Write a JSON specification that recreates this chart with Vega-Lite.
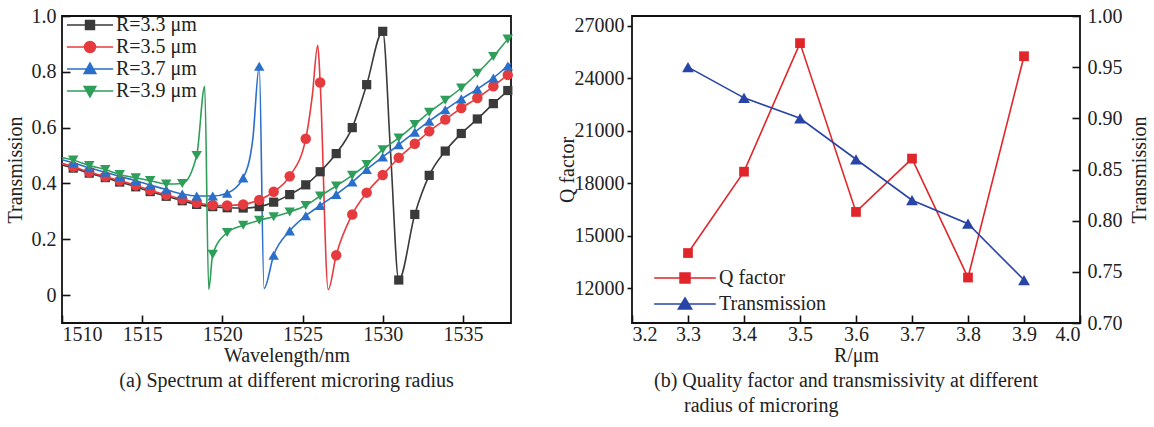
{
  "$schema": "https://vega.github.io/schema/vega-lite/v6.json",
  "background": "white",
  "autosize": {"type": "pad"},
  "padding": {"left": 4, "top": 5, "right": 0, "bottom": 0},
  "bounds": "flush",
  "spacing": 121,
  "resolve": {"scale": {"color": "independent"}},
  "config": {
    "font": "Liberation Serif",
    "view": {"stroke": "#111", "strokeWidth": 1.8},
    "axis": {
      "grid": false, "domain": false, "ticks": true, "tickOpacity": 1,
      "tickColor": "#111", "tickWidth": 1.6, "zindex": 1,
      "labelFont": "Liberation Serif", "labelFontSize": 20, "labelColor": "#222",
      "titleFont": "Liberation Serif", "titleFontSize": 20, "titleFontWeight": "normal", "titleColor": "#222"
    },
    "legend": {"labelFont": "Liberation Serif", "labelFontSize": 20, "labelColor": "#222", "padding": 0, "symbolStrokeWidth": 1.6},
    "title": {"font": "Liberation Serif", "fontSize": 20, "fontWeight": "normal", "color": "#222"}
  },
  "datasets": {
    "spectrum": [
      {"series": "R=3.3 μm", "wl": 1510.0, "T": 0.466, "kind": "edge"},
      {"series": "R=3.3 μm", "wl": 1510.7, "T": 0.455, "kind": "sample"},
      {"series": "R=3.3 μm", "wl": 1511.7, "T": 0.437, "kind": "sample"},
      {"series": "R=3.3 μm", "wl": 1512.7, "T": 0.421, "kind": "sample"},
      {"series": "R=3.3 μm", "wl": 1513.6, "T": 0.405, "kind": "sample"},
      {"series": "R=3.3 μm", "wl": 1514.6, "T": 0.388, "kind": "sample"},
      {"series": "R=3.3 μm", "wl": 1515.5, "T": 0.371, "kind": "sample"},
      {"series": "R=3.3 μm", "wl": 1516.5, "T": 0.354, "kind": "sample"},
      {"series": "R=3.3 μm", "wl": 1517.5, "T": 0.338, "kind": "sample"},
      {"series": "R=3.3 μm", "wl": 1518.4, "T": 0.325, "kind": "sample"},
      {"series": "R=3.3 μm", "wl": 1519.4, "T": 0.317, "kind": "sample"},
      {"series": "R=3.3 μm", "wl": 1520.3, "T": 0.313, "kind": "sample"},
      {"series": "R=3.3 μm", "wl": 1521.3, "T": 0.312, "kind": "sample"},
      {"series": "R=3.3 μm", "wl": 1522.3, "T": 0.317, "kind": "sample"},
      {"series": "R=3.3 μm", "wl": 1523.2, "T": 0.333, "kind": "sample"},
      {"series": "R=3.3 μm", "wl": 1524.2, "T": 0.360, "kind": "sample"},
      {"series": "R=3.3 μm", "wl": 1525.2, "T": 0.395, "kind": "sample"},
      {"series": "R=3.3 μm", "wl": 1526.1, "T": 0.442, "kind": "sample"},
      {"series": "R=3.3 μm", "wl": 1527.1, "T": 0.507, "kind": "sample"},
      {"series": "R=3.3 μm", "wl": 1528.1, "T": 0.600, "kind": "sample"},
      {"series": "R=3.3 μm", "wl": 1529.0, "T": 0.754, "kind": "sample"},
      {"series": "R=3.3 μm", "wl": 1530.0, "T": 0.945, "kind": "sample"},
      {"series": "R=3.3 μm", "wl": 1530.5, "T": 0.500, "kind": "trace"},
      {"series": "R=3.3 μm", "wl": 1531.0, "T": 0.054, "kind": "sample"},
      {"series": "R=3.3 μm", "wl": 1532.0, "T": 0.289, "kind": "sample"},
      {"series": "R=3.3 μm", "wl": 1532.9, "T": 0.429, "kind": "sample"},
      {"series": "R=3.3 μm", "wl": 1533.9, "T": 0.516, "kind": "sample"},
      {"series": "R=3.3 μm", "wl": 1534.9, "T": 0.579, "kind": "sample"},
      {"series": "R=3.3 μm", "wl": 1535.9, "T": 0.631, "kind": "sample"},
      {"series": "R=3.3 μm", "wl": 1536.9, "T": 0.686, "kind": "sample"},
      {"series": "R=3.3 μm", "wl": 1537.8, "T": 0.733, "kind": "sample"},
      {"series": "R=3.3 μm", "wl": 1538.0, "T": 0.745, "kind": "edge"},

      {"series": "R=3.5 μm", "wl": 1510.0, "T": 0.472, "kind": "edge"},
      {"series": "R=3.5 μm", "wl": 1510.7, "T": 0.460, "kind": "sample"},
      {"series": "R=3.5 μm", "wl": 1511.7, "T": 0.441, "kind": "sample"},
      {"series": "R=3.5 μm", "wl": 1512.7, "T": 0.425, "kind": "sample"},
      {"series": "R=3.5 μm", "wl": 1513.6, "T": 0.410, "kind": "sample"},
      {"series": "R=3.5 μm", "wl": 1514.6, "T": 0.393, "kind": "sample"},
      {"series": "R=3.5 μm", "wl": 1515.5, "T": 0.376, "kind": "sample"},
      {"series": "R=3.5 μm", "wl": 1516.5, "T": 0.359, "kind": "sample"},
      {"series": "R=3.5 μm", "wl": 1517.5, "T": 0.343, "kind": "sample"},
      {"series": "R=3.5 μm", "wl": 1518.4, "T": 0.331, "kind": "sample"},
      {"series": "R=3.5 μm", "wl": 1519.4, "T": 0.323, "kind": "sample"},
      {"series": "R=3.5 μm", "wl": 1520.3, "T": 0.321, "kind": "sample"},
      {"series": "R=3.5 μm", "wl": 1521.3, "T": 0.325, "kind": "sample"},
      {"series": "R=3.5 μm", "wl": 1522.3, "T": 0.341, "kind": "sample"},
      {"series": "R=3.5 μm", "wl": 1523.2, "T": 0.370, "kind": "sample"},
      {"series": "R=3.5 μm", "wl": 1524.2, "T": 0.426, "kind": "sample"},
      {"series": "R=3.5 μm", "wl": 1525.2, "T": 0.560, "kind": "sample"},
      {"series": "R=3.5 μm", "wl": 1525.6, "T": 0.710, "kind": "trace"},
      {"series": "R=3.5 μm", "wl": 1525.95, "T": 0.895, "kind": "trace"},
      {"series": "R=3.5 μm", "wl": 1526.1, "T": 0.762, "kind": "sample"},
      {"series": "R=3.5 μm", "wl": 1526.6, "T": 0.020, "kind": "trace"},
      {"series": "R=3.5 μm", "wl": 1527.1, "T": 0.143, "kind": "sample"},
      {"series": "R=3.5 μm", "wl": 1528.1, "T": 0.289, "kind": "sample"},
      {"series": "R=3.5 μm", "wl": 1529.0, "T": 0.367, "kind": "sample"},
      {"series": "R=3.5 μm", "wl": 1530.0, "T": 0.430, "kind": "sample"},
      {"series": "R=3.5 μm", "wl": 1531.0, "T": 0.492, "kind": "sample"},
      {"series": "R=3.5 μm", "wl": 1532.0, "T": 0.542, "kind": "sample"},
      {"series": "R=3.5 μm", "wl": 1532.9, "T": 0.587, "kind": "sample"},
      {"series": "R=3.5 μm", "wl": 1533.9, "T": 0.629, "kind": "sample"},
      {"series": "R=3.5 μm", "wl": 1534.9, "T": 0.670, "kind": "sample"},
      {"series": "R=3.5 μm", "wl": 1535.9, "T": 0.706, "kind": "sample"},
      {"series": "R=3.5 μm", "wl": 1536.9, "T": 0.748, "kind": "sample"},
      {"series": "R=3.5 μm", "wl": 1537.8, "T": 0.789, "kind": "sample"},
      {"series": "R=3.5 μm", "wl": 1538.0, "T": 0.797, "kind": "edge"},

      {"series": "R=3.7 μm", "wl": 1510.0, "T": 0.485, "kind": "edge"},
      {"series": "R=3.7 μm", "wl": 1510.7, "T": 0.474, "kind": "sample"},
      {"series": "R=3.7 μm", "wl": 1511.7, "T": 0.456, "kind": "sample"},
      {"series": "R=3.7 μm", "wl": 1512.7, "T": 0.440, "kind": "sample"},
      {"series": "R=3.7 μm", "wl": 1513.6, "T": 0.425, "kind": "sample"},
      {"series": "R=3.7 μm", "wl": 1514.6, "T": 0.410, "kind": "sample"},
      {"series": "R=3.7 μm", "wl": 1515.5, "T": 0.394, "kind": "sample"},
      {"series": "R=3.7 μm", "wl": 1516.5, "T": 0.378, "kind": "sample"},
      {"series": "R=3.7 μm", "wl": 1517.5, "T": 0.362, "kind": "sample"},
      {"series": "R=3.7 μm", "wl": 1518.4, "T": 0.355, "kind": "sample"},
      {"series": "R=3.7 μm", "wl": 1519.4, "T": 0.355, "kind": "sample"},
      {"series": "R=3.7 μm", "wl": 1520.3, "T": 0.365, "kind": "sample"},
      {"series": "R=3.7 μm", "wl": 1521.3, "T": 0.420, "kind": "sample"},
      {"series": "R=3.7 μm", "wl": 1521.9, "T": 0.560, "kind": "trace"},
      {"series": "R=3.7 μm", "wl": 1522.3, "T": 0.820, "kind": "sample"},
      {"series": "R=3.7 μm", "wl": 1522.6, "T": 0.024, "kind": "trace"},
      {"series": "R=3.7 μm", "wl": 1523.2, "T": 0.143, "kind": "sample"},
      {"series": "R=3.7 μm", "wl": 1524.2, "T": 0.230, "kind": "sample"},
      {"series": "R=3.7 μm", "wl": 1525.2, "T": 0.284, "kind": "sample"},
      {"series": "R=3.7 μm", "wl": 1526.1, "T": 0.321, "kind": "sample"},
      {"series": "R=3.7 μm", "wl": 1527.1, "T": 0.361, "kind": "sample"},
      {"series": "R=3.7 μm", "wl": 1528.1, "T": 0.405, "kind": "sample"},
      {"series": "R=3.7 μm", "wl": 1529.0, "T": 0.450, "kind": "sample"},
      {"series": "R=3.7 μm", "wl": 1530.0, "T": 0.495, "kind": "sample"},
      {"series": "R=3.7 μm", "wl": 1531.0, "T": 0.539, "kind": "sample"},
      {"series": "R=3.7 μm", "wl": 1532.0, "T": 0.584, "kind": "sample"},
      {"series": "R=3.7 μm", "wl": 1532.9, "T": 0.623, "kind": "sample"},
      {"series": "R=3.7 μm", "wl": 1533.9, "T": 0.664, "kind": "sample"},
      {"series": "R=3.7 μm", "wl": 1534.9, "T": 0.703, "kind": "sample"},
      {"series": "R=3.7 μm", "wl": 1535.9, "T": 0.738, "kind": "sample"},
      {"series": "R=3.7 μm", "wl": 1536.9, "T": 0.778, "kind": "sample"},
      {"series": "R=3.7 μm", "wl": 1537.8, "T": 0.821, "kind": "sample"},
      {"series": "R=3.7 μm", "wl": 1538.0, "T": 0.830, "kind": "edge"},

      {"series": "R=3.9 μm", "wl": 1510.0, "T": 0.492, "kind": "edge"},
      {"series": "R=3.9 μm", "wl": 1510.7, "T": 0.484, "kind": "sample"},
      {"series": "R=3.9 μm", "wl": 1511.7, "T": 0.464, "kind": "sample"},
      {"series": "R=3.9 μm", "wl": 1512.7, "T": 0.450, "kind": "sample"},
      {"series": "R=3.9 μm", "wl": 1513.6, "T": 0.432, "kind": "sample"},
      {"series": "R=3.9 μm", "wl": 1514.6, "T": 0.420, "kind": "sample"},
      {"series": "R=3.9 μm", "wl": 1515.5, "T": 0.410, "kind": "sample"},
      {"series": "R=3.9 μm", "wl": 1516.5, "T": 0.398, "kind": "sample"},
      {"series": "R=3.9 μm", "wl": 1517.5, "T": 0.400, "kind": "sample"},
      {"series": "R=3.9 μm", "wl": 1518.4, "T": 0.500, "kind": "sample"},
      {"series": "R=3.9 μm", "wl": 1518.9, "T": 0.748, "kind": "trace"},
      {"series": "R=3.9 μm", "wl": 1519.15, "T": 0.020, "kind": "trace"},
      {"series": "R=3.9 μm", "wl": 1519.4, "T": 0.146, "kind": "sample"},
      {"series": "R=3.9 μm", "wl": 1520.3, "T": 0.224, "kind": "sample"},
      {"series": "R=3.9 μm", "wl": 1521.3, "T": 0.250, "kind": "sample"},
      {"series": "R=3.9 μm", "wl": 1522.3, "T": 0.268, "kind": "sample"},
      {"series": "R=3.9 μm", "wl": 1523.2, "T": 0.281, "kind": "sample"},
      {"series": "R=3.9 μm", "wl": 1524.2, "T": 0.298, "kind": "sample"},
      {"series": "R=3.9 μm", "wl": 1525.2, "T": 0.321, "kind": "sample"},
      {"series": "R=3.9 μm", "wl": 1526.1, "T": 0.355, "kind": "sample"},
      {"series": "R=3.9 μm", "wl": 1527.1, "T": 0.391, "kind": "sample"},
      {"series": "R=3.9 μm", "wl": 1528.1, "T": 0.429, "kind": "sample"},
      {"series": "R=3.9 μm", "wl": 1529.0, "T": 0.468, "kind": "sample"},
      {"series": "R=3.9 μm", "wl": 1530.0, "T": 0.521, "kind": "sample"},
      {"series": "R=3.9 μm", "wl": 1531.0, "T": 0.563, "kind": "sample"},
      {"series": "R=3.9 μm", "wl": 1532.0, "T": 0.611, "kind": "sample"},
      {"series": "R=3.9 μm", "wl": 1532.9, "T": 0.655, "kind": "sample"},
      {"series": "R=3.9 μm", "wl": 1533.9, "T": 0.698, "kind": "sample"},
      {"series": "R=3.9 μm", "wl": 1534.9, "T": 0.742, "kind": "sample"},
      {"series": "R=3.9 μm", "wl": 1535.9, "T": 0.795, "kind": "sample"},
      {"series": "R=3.9 μm", "wl": 1536.9, "T": 0.855, "kind": "sample"},
      {"series": "R=3.9 μm", "wl": 1537.8, "T": 0.917, "kind": "sample"},
      {"series": "R=3.9 μm", "wl": 1538.0, "T": 0.930, "kind": "edge"}
    ],
    "radius": [
      {"R": 3.3, "Q": 14000, "T": 0.950},
      {"R": 3.4, "Q": 18650, "T": 0.920},
      {"R": 3.5, "Q": 26000, "T": 0.900},
      {"R": 3.6, "Q": 16350, "T": 0.860},
      {"R": 3.7, "Q": 19400, "T": 0.820},
      {"R": 3.8, "Q": 12600, "T": 0.797},
      {"R": 3.9, "Q": 25250, "T": 0.742}
    ]
  },
  "hconcat": [
    {
      "width": 449,
      "height": 307,
      "data": {"name": "spectrum"},
      "title": {
        "text": "(a) Spectrum at different microring radius",
        "orient": "bottom", "anchor": "middle", "offset": 6
      },
      "encoding": {
        "x": {
          "field": "wl", "type": "quantitative",
          "scale": {"domain": [1510, 1538], "nice": false, "zero": false},
          "axis": {"title": "Wavelength/nm", "values": [1510, 1515, 1520, 1525, 1530, 1535], "format": "d", "offset": -8, "tickSize": 8, "labelPadding": 1, "titlePadding": 1}
        },
        "y": {
          "field": "T", "type": "quantitative",
          "scale": {"domain": [-0.1, 1.0], "nice": false, "zero": false},
          "axis": {"title": "Transmission", "values": [0, 0.2, 0.4, 0.6, 0.8, 1.0], "labelExpr": "datum.value == 0 ? '0' : format(datum.value, '.1f')", "offset": -8, "tickSize": 8, "labelPadding": 6, "titlePadding": 6}
        },
        "color": {
          "field": "series", "type": "nominal",
          "scale": {"domain": ["R=3.3 μm", "R=3.5 μm", "R=3.7 μm", "R=3.9 μm"], "range": ["#3a3a3a", "#e63b3e", "#2a6fc9", "#2f9e5a"]},
          "legend": {
            "orient": "none", "legendX": 16.5, "legendY": -2.5, "title": null,
            "symbolSize": 441, "labelOffset": 14.5, "rowPadding": -6,
            "encode": {
              "symbols": {
                "update": {
                  "shape": {"signal": "['M-2.2,0H2.2M-0.42,-0.42H0.42V0.42H-0.42Z','M-2.2,0H2.2M0.52,0A0.52,0.52,0,1,1,-0.52,0A0.52,0.52,0,1,1,0.52,0Z','M-2.2,0H2.2M0,-0.55L0.55,0.42H-0.55Z','M-2.2,0H2.2M0,0.55L0.55,-0.42H-0.55Z'][datum.index]"},
                  "fill": {"signal": "['#3a3a3a','#e63b3e','#2a6fc9','#2f9e5a'][datum.index]"},
                  "stroke": {"signal": "['#3a3a3a','#e63b3e','#2a6fc9','#2f9e5a'][datum.index]"},
                  "strokeWidth": {"value": 1.6},
                  "opacity": {"value": 1}
                }
              }
            }
          }
        }
      },
      "layer": [
        {
          "mark": {"type": "line", "interpolate": "monotone", "strokeWidth": 1.6, "clip": true},
          "encoding": {"order": {"field": "wl", "type": "quantitative"}}
        },
        {
          "transform": [{"filter": "datum.kind == 'sample' && datum.series == 'R=3.3 μm'"}],
          "mark": {"type": "point", "shape": "square", "filled": true, "opacity": 1, "size": 85}
        },
        {
          "transform": [{"filter": "datum.kind == 'sample' && datum.series == 'R=3.5 μm'"}],
          "mark": {"type": "point", "shape": "circle", "filled": true, "opacity": 1, "size": 110}
        },
        {
          "transform": [{"filter": "datum.kind == 'sample' && datum.series == 'R=3.7 μm'"}],
          "mark": {"type": "point", "shape": "triangle-up", "filled": true, "opacity": 1, "size": 110}
        },
        {
          "transform": [{"filter": "datum.kind == 'sample' && datum.series == 'R=3.9 μm'"}],
          "mark": {"type": "point", "shape": "triangle-down", "filled": true, "opacity": 1, "size": 110}
        }
      ]
    },
    {
      "width": 448,
      "height": 307,
      "data": {"name": "radius"},
      "title": {
        "text": ["(b) Quality factor and transmissivity at different", "\u2800\u2800radius of microring"],
        "orient": "bottom", "anchor": "start", "frame": "group", "dx": 22, "offset": 6, "lineHeight": 25
      },
      "encoding": {
        "x": {
          "field": "R", "type": "quantitative",
          "scale": {"domain": [3.2, 4.0], "nice": false, "zero": false},
          "axis": {"title": "R/μm", "values": [3.2, 3.3, 3.4, 3.5, 3.6, 3.7, 3.8, 3.9, 4.0], "format": ".1f", "offset": -8, "tickSize": 8, "labelPadding": 1, "titlePadding": 1}
        },
        "color": {
          "scale": {"domain": ["Q factor", "Transmission"], "range": ["#e0262b", "#2744a6"]},
          "legend": {
            "orient": "none", "legendX": 41, "legendY": 250, "title": null,
            "symbolSize": 484, "labelOffset": 22, "rowPadding": 4,
            "encode": {
              "symbols": {
                "update": {
                  "shape": {"signal": "['M-2.8,0H2.8M-0.45,-0.45H0.45V0.45H-0.45Z','M-2.8,0H2.8M0,-0.55L0.6,0.45H-0.6Z'][datum.index]"},
                  "fill": {"signal": "['#e0262b','#2744a6'][datum.index]"},
                  "stroke": {"signal": "['#e0262b','#2744a6'][datum.index]"},
                  "strokeWidth": {"value": 1.6},
                  "opacity": {"value": 1}
                }
              }
            }
          }
        }
      },
      "layer": [
        {
          "encoding": {
            "y": {
              "field": "Q", "type": "quantitative",
              "scale": {"domain": [10000, 27550], "nice": false, "zero": false},
              "axis": {"title": "Q factor", "orient": "left", "values": [12000, 15000, 18000, 21000, 24000, 27000], "format": "d", "tickSize": 5, "labelPadding": 3, "titlePadding": -3}
            },
            "color": {"datum": "Q factor"}
          },
          "layer": [
            {"mark": {"type": "line", "strokeWidth": 1.6}},
            {"mark": {"type": "point", "shape": "square", "filled": true, "opacity": 1, "size": 95}}
          ]
        },
        {
          "encoding": {
            "y": {
              "field": "T", "type": "quantitative",
              "scale": {"domain": [0.7, 1.0], "nice": false, "zero": false},
              "axis": {"title": "Transmission", "orient": "right", "values": [0.7, 0.75, 0.8, 0.85, 0.9, 0.95, 1.0], "format": ".2f", "offset": -8, "tickSize": 8, "labelPadding": 7, "titlePadding": 7, "titleAngle": 270, "titleBaseline": "top"}
            },
            "color": {"datum": "Transmission"}
          },
          "layer": [
            {"mark": {"type": "line", "strokeWidth": 1.6}},
            {"mark": {"type": "point", "shape": "triangle-up", "filled": true, "opacity": 1, "size": 140}}
          ]
        }
      ],
      "resolve": {"scale": {"y": "independent"}}
    }
  ]
}
